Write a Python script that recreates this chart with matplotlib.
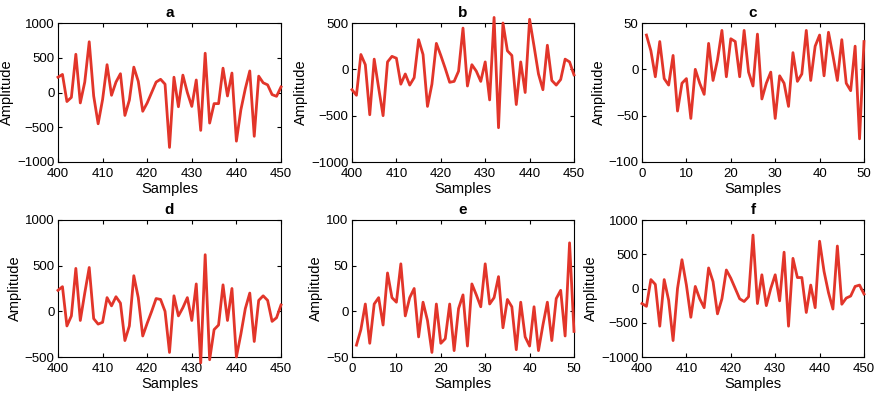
import numpy as np
import matplotlib.pyplot as plt

plt.rcParams['font.family'] = ['Liberation Sans', 'DejaVu Sans']

# === data ===
samples_long = np.arange(400, 451)
samples_short = np.arange(1, 51)

amp_a = [220, 260, -130, -70, 550, -150, 150, 730, -50, -450,
         -100, 400, -40, 150, 270, -330, -110, 365, 160, -270,
         -150, 0, 150, 190, 120, -790, 220, -205, 250, 0,
         -200, 180, -545, 565, -440, -160, -160, 350, -50, 280,
         -700, -250, 55, 310, -630, 235, 140, 110, -30, -55, 80]

amp_b = [-220, -280, 160, 50, -490, 110, -200, -500, 80, 140,
         120, -160, -50, -170, -90, 320, 160, -400, -160, 280,
         150, 10, -140, -130, -20, 445, -180, 50, -20, -130,
         80, -330, 560, -630, 500, 200, 150, -380, 80, -250,
         540, 250, -50, -220, 260, -120, -170, -110, 110, 80, -60]

amp_c = [37, 20, -8, 30, -10, -17, 15, -45, -15, -10,
         -53, 0, -15, -27, 28, -12, 10, 42, -8, 33,
         30, -8, 42, -3, -18, 38, -32, -15, -3, -53,
         -7, -15, -40, 18, -13, -5, 42, -12, 25, 37,
         -7, 40, 15, -12, 32, -15, -23, 25, -75, 30]

amp_d = [230, 270, -160, -50, 470, -100, 200, 480, -80, -140,
         -120, 150, 60, 160, 90, -320, -160, 390, 150, -270,
         -130, 0, 140, 130, 0, -450, 170, -50, 40, 150,
         -100, 300, -565, 620, -530, -200, -150, 290, -100, 250,
         -500, -250, 30, 200, -330, 120, 170, 120, -110, -70, 70]

amp_e = [-37, -20, 8, -35, 8, 15, -15, 42, 15, 10,
         52, -5, 15, 25, -28, 10, -10, -45, 8, -35,
         -30, 8, -43, 3, 18, -38, 30, 18, 5, 52,
         8, 15, 38, -18, 13, 5, -42, 10, -28, -38,
         5, -43, -15, 10, -32, 14, 23, -27, 75, -22]

amp_f = [-220, -260, 130, 60, -550, 130, -170, -760, 0, 420,
         50, -420, 30, -150, -280, 300, 100, -370, -150, 270,
         150, 0, -150, -190, -120, 780, -220, 200, -250, 0,
         200, -180, 530, -550, 440, 160, 160, -350, 50, -280,
         690, 250, -60, -300, 620, -230, -140, -110, 30, 50, -80]

titles = ['a', 'b', 'c', 'd', 'e', 'f']
series = [amp_a, amp_b, amp_c, amp_d, amp_e, amp_f]
xs = [samples_long, samples_long, samples_short,
      samples_long, samples_short, samples_long]
ylims = [(-1000, 1000), (-1000, 500), (-100, 50),
         (-500, 1000), (-50, 100), (-1000, 1000)]
yticks = [[-1000, -500, 0, 500, 1000], [-1000, -500, 0, 500], [-100, -50, 0, 50],
          [-500, 0, 500, 1000], [-50, 0, 50, 100], [-1000, -500, 0, 500, 1000]]

# axes boxes in pixels: left, right, top, bottom
W, H = 877, 398
lefts = [58, 352, 642]
rights = [281, 574, 864]
tops = [23, 220]
bottoms = [162, 357]

fig = plt.figure(figsize=(W / 100, H / 100), dpi=100)
line_color = '#E2352A'

for i in range(6):
    r, c = divmod(i, 3)
    l, rt = lefts[c], rights[c]
    t, b = tops[r], bottoms[r]
    ax = fig.add_axes([l / W, 1 - b / H, (rt - l) / W, (b - t) / H])
    x = xs[i]
    ax.plot(x, series[i], color=line_color, lw=2.0, clip_on=False, zorder=3)
    if x[0] == 1:
        ax.set_xlim(0, 50)
        ax.set_xticks([0, 10, 20, 30, 40, 50])
    else:
        ax.set_xlim(400, 450)
        ax.set_xticks([400, 410, 420, 430, 440, 450])
    ax.set_ylim(*ylims[i])
    ax.set_yticks(yticks[i])
    ax.tick_params(direction='in', top=True, right=True, length=3,
                   width=0.8, labelsize=9.5)
    ax.tick_params(axis='x', pad=4.5)
    ax.tick_params(axis='y', pad=2.5)
    for s in ax.spines.values():
        s.set_linewidth(0.8)
    ax.set_title(titles[i], fontsize=11, fontweight='bold', pad=4)
    ax.set_xlabel('Samples', fontsize=10.5, labelpad=1.5)
    ax.set_ylabel('Amplitude', fontsize=10.5, labelpad=2)

fig.savefig('out.png', dpi=100)
